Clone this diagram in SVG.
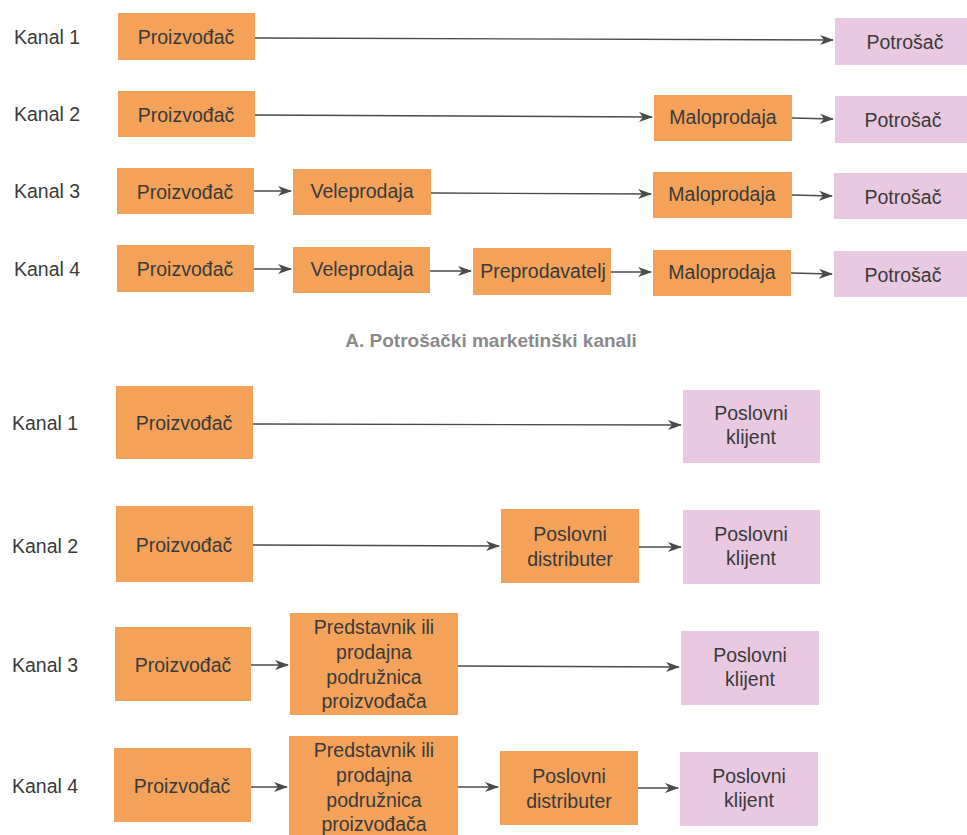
<svg xmlns="http://www.w3.org/2000/svg" width="967" height="835" viewBox="0 0 967 835">
<defs>
<marker id="ah" markerWidth="14" markerHeight="10" refX="13" refY="5" orient="auto" markerUnits="userSpaceOnUse">
<path d="M0,0 L14,5 L0,10 L4,5 Z" fill="#4a4a4a"/>
</marker>
<style>
.o{fill:#F4A25A}
.p{fill:#E9C8E1}
text{font-family:"Liberation Sans",Arial,sans-serif;font-size:19.5px;fill:#3a3a3a}
.t{text-anchor:middle;dominant-baseline:central}
.k{dominant-baseline:central}
.cap{font-weight:bold;font-size:19px;fill:#8a8a8a;text-anchor:middle;dominant-baseline:central}
.c line{stroke:#4a4a4a;stroke-width:1.4;marker-end:url(#ah)}
</style>
</defs>
<rect width="967" height="835" fill="#ffffff"/>

<g id="labels">
<text class="k" x="14" y="37">Kanal 1</text>
<text class="k" x="14" y="114">Kanal 2</text>
<text class="k" x="14" y="191">Kanal 3</text>
<text class="k" x="14" y="269">Kanal 4</text>
<text class="k" x="12" y="423">Kanal 1</text>
<text class="k" x="12" y="546">Kanal 2</text>
<text class="k" x="12" y="665">Kanal 3</text>
<text class="k" x="12" y="786">Kanal 4</text>
</g>

<g id="a1p"><rect class="o" x="118" y="13" width="137" height="47"/><text class="t" x="186" y="37">Proizvođač</text></g>
<g id="a1c"><rect class="p" x="835" y="18" width="132" height="47"/><text class="t" x="905" y="42">Potrošač</text></g>

<g id="a2p"><rect class="o" x="118" y="91" width="137" height="46"/><text class="t" x="186" y="115">Proizvođač</text></g>
<g id="a2m"><rect class="o" x="654" y="95" width="138" height="46"/><text class="t" x="723" y="117">Maloprodaja</text></g>
<g id="a2c"><rect class="p" x="835" y="96" width="132" height="47"/><text class="t" x="903" y="120">Potrošač</text></g>

<g id="a3p"><rect class="o" x="117" y="168" width="137" height="46"/><text class="t" x="185" y="192">Proizvođač</text></g>
<g id="a3v"><rect class="o" x="293" y="169" width="138" height="46"/><text class="t" x="362" y="191">Veleprodaja</text></g>
<g id="a3m"><rect class="o" x="653" y="172" width="139" height="46"/><text class="t" x="722" y="194">Maloprodaja</text></g>
<g id="a3c"><rect class="p" x="834" y="173" width="133" height="46"/><text class="t" x="903" y="197">Potrošač</text></g>

<g id="a4p"><rect class="o" x="117" y="245" width="137" height="47"/><text class="t" x="185" y="269">Proizvođač</text></g>
<g id="a4v"><rect class="o" x="293" y="247" width="137" height="46"/><text class="t" x="362" y="269">Veleprodaja</text></g>
<g id="a4r"><rect class="o" x="473" y="248" width="138" height="47"/><text class="t" x="543" y="271">Preprodavatelj</text></g>
<g id="a4m"><rect class="o" x="653" y="250" width="138" height="46"/><text class="t" x="722" y="272">Maloprodaja</text></g>
<g id="a4c"><rect class="p" x="834" y="251" width="133" height="46"/><text class="t" x="903" y="275">Potrošač</text></g>

<g id="caption"><text class="cap" x="491" y="340">A.  Potrošački marketinški kanali</text></g>

<g id="b1p"><rect class="o" x="116" y="386" width="137" height="73"/><text class="t" x="184" y="423">Proizvođač</text></g>
<g id="b1c"><rect class="p" x="683" y="390" width="137" height="73"/><text class="t" x="751" y="413">Poslovni</text><text class="t" x="751" y="437">klijent</text></g>

<g id="b2p"><rect class="o" x="116" y="506" width="137" height="76"/><text class="t" x="184" y="545">Proizvođač</text></g>
<g id="b2d"><rect class="o" x="501" y="509" width="138" height="74"/><text class="t" x="570" y="534">Poslovni</text><text class="t" x="570" y="559">distributer</text></g>
<g id="b2c"><rect class="p" x="683" y="510" width="137" height="74"/><text class="t" x="751" y="534">Poslovni</text><text class="t" x="751" y="558">klijent</text></g>

<g id="b3p"><rect class="o" x="115" y="627" width="136" height="74"/><text class="t" x="183" y="665">Proizvođač</text></g>
<g id="b3s"><rect class="o" x="290" y="613" width="168" height="102"/><text class="t" x="374" y="627">Predstavnik ili</text><text class="t" x="374" y="652">prodajna</text><text class="t" x="374" y="677">podružnica</text><text class="t" x="374" y="701">proizvođača</text></g>
<g id="b3c"><rect class="p" x="681" y="631" width="138" height="74"/><text class="t" x="750" y="655">Poslovni</text><text class="t" x="750" y="679">klijent</text></g>

<g id="b4p"><rect class="o" x="114" y="748" width="137" height="74"/><text class="t" x="182" y="786">Proizvođač</text></g>
<g id="b4s"><rect class="o" x="289" y="736" width="169" height="99"/><text class="t" x="374" y="750">Predstavnik ili</text><text class="t" x="374" y="775">prodajna</text><text class="t" x="374" y="800">podružnica</text><text class="t" x="374" y="824">proizvođača</text></g>
<g id="b4d"><rect class="o" x="500" y="751" width="138" height="74"/><text class="t" x="569" y="776">Poslovni</text><text class="t" x="569" y="801">distributer</text></g>
<g id="b4c"><rect class="p" x="680" y="752" width="138" height="74"/><text class="t" x="749" y="776">Poslovni</text><text class="t" x="749" y="800">klijent</text></g>

<g id="connectors" class="c">
<line x1="255" y1="38" x2="833" y2="40"/>
<line x1="255" y1="115" x2="652" y2="117"/>
<line x1="792" y1="118" x2="833" y2="119"/>
<line x1="254" y1="191" x2="291" y2="191"/>
<line x1="431" y1="193" x2="651" y2="194"/>
<line x1="792" y1="195" x2="832" y2="196"/>
<line x1="254" y1="269" x2="291" y2="269"/>
<line x1="430" y1="271" x2="471" y2="271"/>
<line x1="611" y1="272" x2="651" y2="272"/>
<line x1="791" y1="273" x2="832" y2="274"/>
<line x1="253" y1="424" x2="681" y2="425"/>
<line x1="253" y1="545" x2="499" y2="546"/>
<line x1="639" y1="547" x2="681" y2="547"/>
<line x1="251" y1="665" x2="288" y2="665"/>
<line x1="458" y1="666" x2="679" y2="667"/>
<line x1="251" y1="787" x2="287" y2="787"/>
<line x1="458" y1="787" x2="498" y2="787"/>
<line x1="638" y1="788" x2="678" y2="788"/>
</g>
</svg>
